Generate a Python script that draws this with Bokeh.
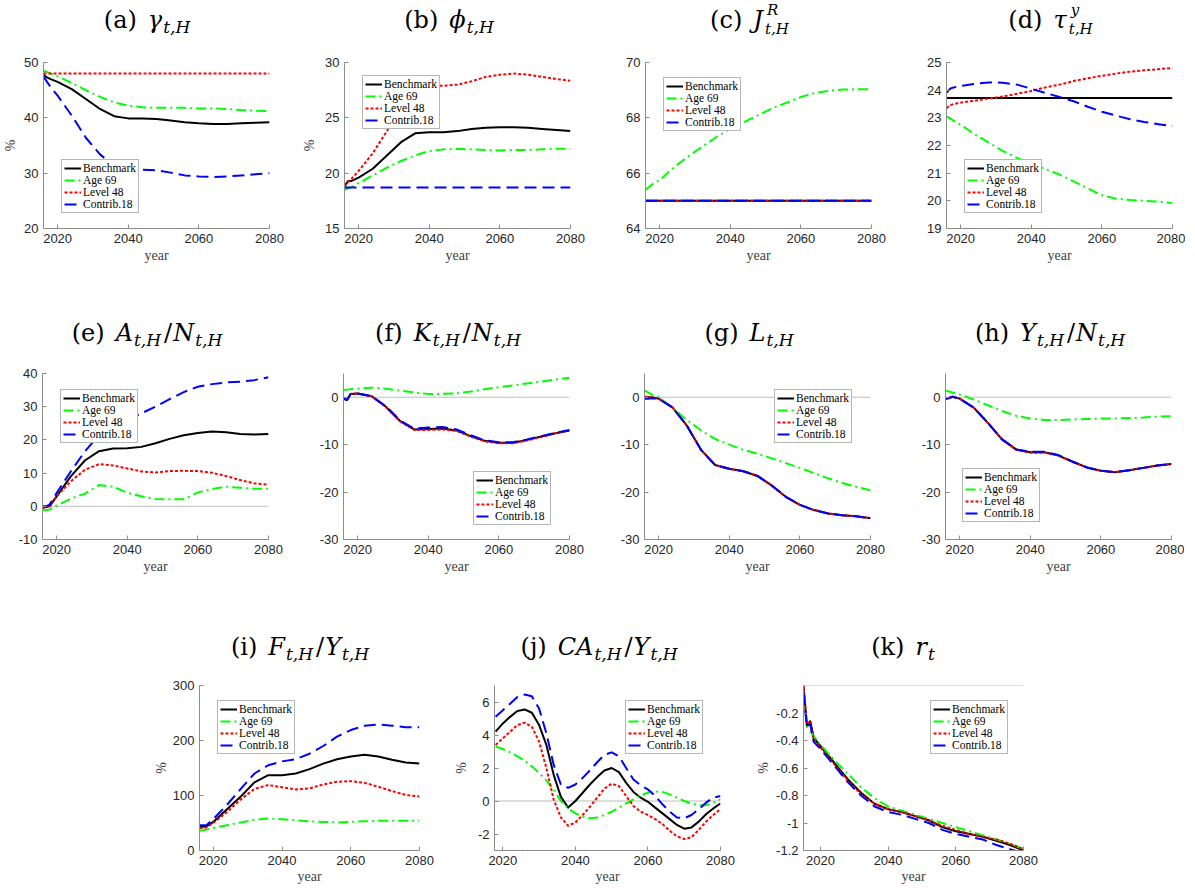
from bokeh.plotting import figure
from bokeh.layouts import column, row
from bokeh.models import Legend, LegendItem, Span, Spacer, FixedTicker, Range1d, Div
from bokeh.embed import file_html
from bokeh.resources import INLINE

SERIES_NAMES = ["Benchmark", "Age 69", "Level 48", "Contrib.18"]
COLORS = ["#000000", "#00ff00", "#ff0000", "#0000ff"]
DASHES = ["solid", "10 4 2 4", "3 2", "12 6"]

YEARS = [2016, 2017, 2018, 2020, 2024, 2028, 2032, 2036, 2040, 2044, 2048, 2052, 2056, 2060, 2064, 2068, 2072, 2076, 2080]

GAMMA_BENCH = [47.8, 47.3, 47.0, 46.5, 45.2, 43.4, 41.6, 40.3, 39.9, 39.9, 39.8, 39.5, 39.2, 39.0, 38.9, 38.9, 39.0, 39.1, 39.2]
GAMMA_AGE69 = [48.5, 48.3, 48.0, 47.5, 46.3, 45.0, 43.8, 42.8, 42.2, 41.9, 41.8, 41.8, 41.8, 41.7, 41.7, 41.6, 41.4, 41.3, 41.2]
GAMMA_LEVEL48 = [48.0, 48.0, 48.0, 48.0, 48.0, 48.0, 48.0, 48.0, 48.0, 48.0, 48.0, 48.0, 48.0, 48.0, 48.0, 48.0, 48.0, 48.0, 48.0]
GAMMA_CONTRIB18 = [47.5, 46.5, 45.6, 44.0, 40.4, 36.4, 33.4, 31.3, 30.7, 30.6, 30.5, 30.1, 29.6, 29.4, 29.3, 29.4, 29.6, 29.8, 30.0]

PHI_BENCH = [18.8, 19.3, 19.3, 19.6, 20.4, 21.6, 22.8, 23.6, 23.7, 23.7, 23.8, 24.0, 24.1, 24.15, 24.15, 24.1, 24.0, 23.9, 23.8]
PHI_AGE69 = [18.5, 18.6, 18.75, 19.1, 19.8, 20.5, 21.1, 21.6, 22.0, 22.15, 22.2, 22.15, 22.1, 22.05, 22.1, 22.1, 22.15, 22.2, 22.2]
PHI_LEVEL48 = [18.8, 19.2, 19.5, 20.2, 21.8, 23.8, 26.0, 27.5, 27.9, 27.9, 28.0, 28.3, 28.7, 28.9, 29.0, 28.9, 28.7, 28.5, 28.35]
PHI_CONTRIB18 = [18.7, 18.7, 18.7, 18.7, 18.7, 18.7, 18.7, 18.7, 18.7, 18.7, 18.7, 18.7, 18.7, 18.7, 18.7, 18.7, 18.7, 18.7, 18.7]

JR_BENCH = [65, 65, 65, 65, 65, 65, 65, 65, 65, 65, 65, 65, 65, 65, 65, 65, 65, 65, 65]
JR_AGE69 = [65.4, 65.5, 65.6, 65.75, 66.2, 66.6, 66.95, 67.3, 67.6, 67.85, 68.1, 68.35, 68.55, 68.75, 68.9, 68.98, 69.02, 69.03, 69.03]
JR_LEVEL48 = [65, 65, 65, 65, 65, 65, 65, 65, 65, 65, 65, 65, 65, 65, 65, 65, 65, 65, 65]
JR_CONTRIB18 = [65, 65, 65, 65, 65, 65, 65, 65, 65, 65, 65, 65, 65, 65, 65, 65, 65, 65, 65]

TAU_BENCH = [23.72, 23.72, 23.72, 23.72, 23.72, 23.72, 23.72, 23.72, 23.72, 23.72, 23.72, 23.72, 23.72, 23.72, 23.72, 23.72, 23.72, 23.72, 23.72]
TAU_AGE69 = [23.05, 22.98, 22.9, 22.75, 22.4, 22.1, 21.8, 21.55, 21.35, 21.15, 20.95, 20.7, 20.45, 20.2, 20.08, 20.03, 20.0, 19.97, 19.92]
TAU_LEVEL48 = [23.35, 23.45, 23.5, 23.55, 23.62, 23.7, 23.77, 23.87, 23.97, 24.1, 24.2, 24.33, 24.43, 24.52, 24.6, 24.67, 24.72, 24.76, 24.8]
TAU_CONTRIB18 = [23.9, 24.05, 24.1, 24.15, 24.23, 24.28, 24.27, 24.2, 24.05, 23.9, 23.75, 23.6, 23.4, 23.22, 23.08, 22.95, 22.85, 22.77, 22.7]

AN_BENCH = [-0.3, -0.2, 0.0, 3.0, 9.0, 13.8, 16.6, 17.4, 17.5, 17.9, 19.0, 20.3, 21.4, 22.1, 22.5, 22.3, 21.8, 21.6, 21.8]
AN_AGE69 = [-1.2, -1.2, -1.0, 0.2, 2.3, 3.8, 6.4, 5.9, 4.1, 3.0, 2.2, 2.1, 2.1, 4.2, 5.2, 5.9, 5.6, 5.3, 5.3]
AN_LEVEL48 = [-0.5, -0.3, 0.2, 3.0, 7.5, 11.0, 12.7, 12.3, 11.4, 10.5, 10.2, 10.6, 10.7, 10.6, 10.1, 9.1, 7.9, 6.9, 6.5]
AN_CONTRIB18 = [0.0, 0.0, 0.5, 4.0, 10.5, 16.5, 21.5, 24.5, 26.0, 28.0, 30.0, 32.3, 34.4, 36.0, 36.8, 37.3, 37.5, 38.0, 38.9]

KN_BENCH = [-0.3, -0.6, 0.7, 0.8, 0.2, -2.0, -5.0, -6.8, -6.7, -6.6, -7.0, -8.2, -9.2, -9.6, -9.6, -9.0, -8.3, -7.6, -7.0]
KN_AGE69 = [1.5, 1.6, 1.7, 1.8, 2.0, 1.8, 1.4, 1.0, 0.7, 0.7, 0.8, 1.2, 1.7, 2.1, 2.5, 2.9, 3.3, 3.7, 4.1]
KN_LEVEL48 = [-0.3, -0.6, 0.7, 0.8, 0.2, -2.1, -5.1, -6.9, -6.9, -6.8, -7.1, -8.3, -9.3, -9.7, -9.7, -9.1, -8.4, -7.6, -7.0]
KN_CONTRIB18 = [-0.3, -0.6, 0.7, 0.8, 0.2, -1.9, -4.9, -6.6, -6.4, -6.3, -6.8, -8.0, -9.1, -9.5, -9.5, -8.9, -8.2, -7.5, -6.9]

L_BENCH = [0.0, 0.0, 0.0, -0.3, -2.2, -6.0, -11.1, -14.3, -15.1, -15.6, -16.6, -18.6, -21.0, -22.7, -23.8, -24.5, -24.9, -25.1, -25.5]
L_AGE69 = [1.4, 1.0, 0.6, 0.0, -2.3, -4.8, -7.0, -8.8, -10.0, -11.1, -11.9, -12.9, -13.9, -14.9, -16.0, -17.1, -18.1, -18.9, -19.6]
L_LEVEL48 = [0.1, 0.1, 0.0, -0.3, -2.2, -6.0, -11.1, -14.3, -15.1, -15.6, -16.6, -18.6, -21.0, -22.7, -23.8, -24.5, -24.9, -25.1, -25.5]
L_CONTRIB18 = [-0.3, -0.3, -0.2, -0.3, -2.2, -6.0, -11.1, -14.3, -15.1, -15.6, -16.6, -18.6, -21.0, -22.7, -23.8, -24.5, -24.9, -25.1, -25.6]

YN_BENCH = [-0.2, -0.1, 0.1, -0.3, -2.2, -5.4, -8.9, -11.0, -11.6, -11.6, -12.3, -13.6, -14.8, -15.5, -15.8, -15.4, -14.9, -14.4, -14.1]
YN_AGE69 = [1.4, 1.2, 1.0, 0.6, -0.5, -1.7, -2.9, -3.9, -4.5, -4.8, -4.8, -4.7, -4.6, -4.5, -4.5, -4.4, -4.3, -4.1, -4.0]
YN_LEVEL48 = [-0.2, -0.1, 0.1, -0.3, -2.2, -5.4, -8.9, -11.1, -11.7, -11.7, -12.3, -13.6, -14.8, -15.5, -15.8, -15.4, -14.9, -14.4, -14.1]
YN_CONTRIB18 = [-0.4, -0.2, 0.1, -0.3, -2.2, -5.4, -8.9, -11.0, -11.5, -11.5, -12.2, -13.6, -14.8, -15.5, -15.8, -15.4, -14.9, -14.4, -14.1]

FY_BENCH = [43, 43, 44, 52, 75, 98, 124, 137, 137, 140, 148, 158, 166, 171, 174, 171, 165, 160, 158]
FY_AGE69 = [36, 37, 38, 41, 46, 51, 56, 58, 57, 55, 53, 52, 51, 52, 53, 54, 54, 54, 54]
FY_LEVEL48 = [41, 41, 42, 50, 70, 93, 112, 119, 115, 111, 113, 120, 125, 126, 123, 116, 108, 101, 98]
FY_CONTRIB18 = [46, 46, 46, 57, 83, 112, 140, 155, 162, 166, 176, 190, 207, 219, 227, 229, 227, 224, 224]

YEARS_J = [2018, 2020, 2022, 2024, 2026, 2028, 2030, 2032, 2034, 2036, 2038, 2040, 2042, 2044, 2046, 2048,
           2050, 2052, 2054, 2056, 2058, 2060, 2062, 2064, 2066, 2068, 2070, 2072, 2074, 2076, 2078, 2080]
CA_BENCH = [4.2, 4.7, 5.1, 5.45, 5.55, 5.35, 4.6, 3.4, 1.6, 0.25, -0.4, 0.0, 0.5, 1.0, 1.45, 1.85,
            2.0, 1.75, 1.1, 0.55, 0.2, -0.05, -0.4, -0.75, -1.1, -1.45, -1.68, -1.6, -1.25, -0.8, -0.45, -0.15]
CA_AGE69 = [3.3, 3.15, 2.95, 2.7, 2.45, 2.1, 1.7, 1.25, 0.7, 0.0, -0.45, -0.75, -0.95, -1.05, -1.0, -0.85,
            -0.65, -0.4, -0.15, 0.1, 0.35, 0.5, 0.58, 0.55, 0.4, 0.2, 0.0, -0.15, -0.25, -0.25, -0.1, 0.1]
CA_LEVEL48 = [3.4, 3.8, 4.2, 4.6, 4.75, 4.5, 3.6, 2.0, 0.1, -1.0, -1.5, -1.3, -0.85, -0.35, 0.2, 0.75,
              1.05, 0.9, 0.3, -0.3, -0.65, -0.85, -1.1, -1.4, -1.8, -2.15, -2.3, -2.2, -1.75, -1.25, -0.85, -0.5]
CA_CONTRIB18 = [5.1, 5.5, 5.9, 6.3, 6.45, 6.35, 5.6, 4.1, 2.2, 1.0, 0.8, 1.0, 1.4, 1.85, 2.35, 2.8,
                2.95, 2.7, 2.0, 1.3, 0.95, 0.7, 0.3, -0.2, -0.65, -1.0, -1.05, -0.85, -0.5, -0.1, 0.2, 0.3]

YEARS_K = [2015, 2016, 2017, 2018, 2020, 2024, 2028, 2032, 2036, 2040, 2044, 2048, 2052, 2056, 2060, 2064, 2068, 2072, 2076, 2080]
R_BENCH = [0.0, -0.29, -0.26, -0.38, -0.44, -0.56, -0.68, -0.78, -0.86, -0.9, -0.92, -0.95, -0.98, -1.03, -1.06, -1.08, -1.1, -1.13, -1.16, -1.2]
R_AGE69 = [-0.05, -0.3, -0.33, -0.37, -0.43, -0.54, -0.64, -0.74, -0.82, -0.88, -0.91, -0.94, -0.97, -1.0, -1.03, -1.06, -1.09, -1.12, -1.15, -1.19]
R_LEVEL48 = [0.0, -0.28, -0.27, -0.39, -0.45, -0.57, -0.69, -0.79, -0.86, -0.9, -0.92, -0.95, -0.98, -1.02, -1.05, -1.08, -1.1, -1.12, -1.15, -1.19]
R_CONTRIB18 = [-0.05, -0.3, -0.28, -0.41, -0.46, -0.58, -0.7, -0.8, -0.88, -0.92, -0.94, -0.97, -1.0, -1.05, -1.08, -1.1, -1.12, -1.16, -1.19, -1.22]

X_TICKS = [2020, 2040, 2060, 2080]

SERIF = "Liberation Serif"
TSERIF = "'DejaVu Serif'"


def title_html(pieces, width, center, pad_top):
    out = []
    for i, (kind, txt) in enumerate(pieces):
        if kind == "rm":
            mr = "margin-right:11px;" if i == 0 else "margin:0 1px;"
            out.append(f'<span style="{mr}">{txt}</span>')
        elif kind == "it":
            out.append(f'<span style="font-style:italic">{txt}</span>')
        elif kind == "sub":
            out.append('<span style="font-style:italic;font-size:17px;position:relative;top:5px;'
                       f'margin-left:1px;margin-right:2px">{txt}</span>')
        elif kind == "supsub":
            sup, sub = txt
            out.append('<span style="display:inline-block;position:relative;width:27px;height:1px;margin-left:2px">'
                       '<span style="position:absolute;left:2px;bottom:10px;font-size:15px;font-style:italic;'
                       f'line-height:1">{sup}</span>'
                       '<span style="position:absolute;left:0px;top:-5px;font-size:15px;font-style:italic;'
                       f'line-height:1;white-space:nowrap">{sub}</span></span>')
    pl = max(0, 2 * center - width)
    pr = max(0, width - 2 * center)
    style = (f"width:{width}px;box-sizing:border-box;padding-left:{pl}px;padding-right:{pr}px;"
             f"padding-top:{pad_top}px;text-align:center;font-family:{TSERIF};font-size:24px;"
             "line-height:1;color:#000000;white-space:nowrap")
    return f'<div style="{style}">' + "".join(out) + "</div>"


def build(spec):
    fw, fh, bl, br, bt, bb = spec["geom"]
    p = figure(title=None, frame_width=fw, frame_height=fh,
               x_range=Range1d(spec["xstart"], 2080), y_range=Range1d(*spec["yr"]),
               output_backend="svg", toolbar_location=None,
               min_border_left=bl, min_border_right=br, min_border_top=bt, min_border_bottom=bb)
    p.outline_line_color = None
    p.grid.visible = False
    p.background_fill_color = "white"
    p.border_fill_color = "white"
    p.xaxis.ticker = FixedTicker(ticks=X_TICKS)
    p.yaxis.ticker = FixedTicker(ticks=spec["yticks"])
    p.yaxis.major_label_overrides = {t: ("%g" % t) for t in spec["yticks"]}
    p.xaxis.major_label_overrides = {t: str(t) for t in X_TICKS}
    for ax in p.xaxis + p.yaxis:
        ax.major_tick_in = 4
        ax.major_tick_out = 0
        ax.minor_tick_line_color = None
        ax.axis_line_color = "#8c8c8c"
        ax.major_tick_line_color = "#8c8c8c"
        ax.major_label_text_font = "Liberation Sans"
        ax.major_label_text_font_size = "13px"
        ax.major_label_text_color = "#262626"
        ax.major_label_standoff = 5
        ax.axis_label_text_font = SERIF
        ax.axis_label_text_font_size = "14px"
        ax.axis_label_text_font_style = "normal"
        ax.axis_label_text_color = "#404040"
    p.xaxis.axis_label = "year"
    p.xaxis.axis_label_standoff = spec["ystd"]
    if spec.get("pct") is not None:
        p.yaxis.axis_label = "%"
        p.yaxis.axis_label_standoff = spec["pct"]

    if spec.get("zero"):
        p.add_layout(Span(location=0, dimension="width", line_color="#bdbdbd", line_width=1, level="underlay"))

    rends = []
    for ys, c, d in zip(spec["series"], COLORS, DASHES):
        rends.append(p.line(spec["x"], ys, line_color=c, line_width=2, line_dash=d, line_join="round"))

    items = [LegendItem(label=n, renderers=[r]) for n, r in zip(SERIES_NAMES, rends)]
    leg = Legend(items=items, location=spec["legend"], margin=0, padding=2, spacing=0,
                 glyph_width=17, glyph_height=12, label_height=12, label_standoff=2,
                 label_text_font=SERIF, label_text_font_size="11.5px", label_text_color="#000000",
                 border_line_color="#6e6e6e", border_line_width=1,
                 background_fill_color="white", background_fill_alpha=1.0)
    p.add_layout(leg)

    width = bl + fw + br
    center = bl + fw / 2.0 - 7
    div = Div(text=title_html(spec["title"], width, center, spec["tpad"]),
              width=width, height=spec["dh"], margin=0)
    return column(div, p, spacing=0)


G1 = (12, 80)
G2 = (12, 86)
G3 = (12, 35)

specs = [
    dict(key="a", x=YEARS, series=[GAMMA_BENCH, GAMMA_AGE69, GAMMA_LEVEL48, GAMMA_CONTRIB18],
         xstart=2016, yr=(20, 50), yticks=[20, 30, 40, 50], geom=(226, 166, 42, 27) + G1,
         legend=(18, 15), title=[("rm", "(a)"), ("it", "γ"), ("sub", "t,H")], dh=50, tpad=8,
         ystd=2, pct=3),
    dict(key="b", x=YEARS, series=[PHI_BENCH, PHI_AGE69, PHI_LEVEL48, PHI_CONTRIB18],
         xstart=2016, yr=(15, 30), yticks=[15, 20, 25, 30], geom=(226, 166, 48, 27) + G1,
         legend=(18, 99), title=[("rm", "(b)"), ("it", "ϕ"), ("sub", "t,H")], dh=50, tpad=8,
         ystd=2, pct=5),
    dict(key="c", x=YEARS, series=[JR_BENCH, JR_AGE69, JR_LEVEL48, JR_CONTRIB18],
         xstart=2016, yr=(64, 70), yticks=[64, 66, 68, 70], geom=(226, 166, 48, 27) + G1,
         legend=(18, 97), title=[("rm", "(c)"), ("it", "J"), ("supsub", ("R", "t,H"))], dh=50, tpad=8,
         ystd=2, pct=None),
    dict(key="d", x=YEARS, series=[TAU_BENCH, TAU_AGE69, TAU_LEVEL48, TAU_CONTRIB18],
         xstart=2016, yr=(19, 25), yticks=[19, 20, 21, 22, 23, 24, 25], geom=(226, 166, 48, 13) + G1,
         legend=(18, 15), title=[("rm", "(d)"), ("it", "τ"), ("supsub", ("y", "t,H"))], dh=50, tpad=8,
         ystd=2, pct=None),
    dict(key="e", x=YEARS, series=[AN_BENCH, AN_AGE69, AN_LEVEL48, AN_CONTRIB18], zero=True,
         xstart=2016, yr=(-10, 40), yticks=[-10, 0, 10, 20, 30, 40], geom=(226, 166, 42, 27) + G2,
         legend=(18, 96), title=[("rm", "(e)"), ("it", "A"), ("sub", "t,H"), ("rm", "/"), ("it", "N"), ("sub", "t,H")],
         dh=53, tpad=13, ystd=2, pct=None),
    dict(key="f", x=YEARS, series=[KN_BENCH, KN_AGE69, KN_LEVEL48, KN_CONTRIB18], zero=True,
         xstart=2016, yr=(-30, 5), yticks=[-30, -20, -10, 0], geom=(226, 166, 48, 27) + G2,
         legend=(130, 14), title=[("rm", "(f)"), ("it", "K"), ("sub", "t,H"), ("rm", "/"), ("it", "N"), ("sub", "t,H")],
         dh=53, tpad=13, ystd=2, pct=None),
    dict(key="g", x=YEARS, series=[L_BENCH, L_AGE69, L_LEVEL48, L_CONTRIB18], zero=True,
         xstart=2016, yr=(-30, 5), yticks=[-30, -20, -10, 0], geom=(226, 166, 48, 27) + G2,
         legend=(130, 96), title=[("rm", "(g)"), ("it", "L"), ("sub", "t,H")],
         dh=53, tpad=13, ystd=2, pct=None),
    dict(key="h", x=YEARS, series=[YN_BENCH, YN_AGE69, YN_LEVEL48, YN_CONTRIB18], zero=True,
         xstart=2016, yr=(-30, 5), yticks=[-30, -20, -10, 0], geom=(226, 166, 48, 13) + G2,
         legend=(17, 17), title=[("rm", "(h)"), ("it", "Y"), ("sub", "t,H"), ("rm", "/"), ("it", "N"), ("sub", "t,H")],
         dh=53, tpad=13, ystd=2, pct=None),
    dict(key="i", x=YEARS, series=[FY_BENCH, FY_AGE69, FY_LEVEL48, FY_CONTRIB18],
         xstart=2016, yr=(0, 300), yticks=[0, 100, 200, 300], geom=(220, 165, 48, 27) + G3,
         legend=(18, 96), title=[("rm", "(i)"), ("it", "F"), ("sub", "t,H"), ("rm", "/"), ("it", "Y"), ("sub", "t,H")],
         dh=48, tpad=10, ystd=1, pct=1),
    dict(key="j", x=YEARS_J, series=[CA_BENCH, CA_AGE69, CA_LEVEL48, CA_CONTRIB18], zero=True,
         xstart=2017.7, yr=(-3, 7), yticks=[-2, 0, 2, 4, 6], geom=(226, 165, 48, 33) + G3,
         legend=(131, 96), title=[("rm", "(j)"), ("it", "CA"), ("sub", "t,H"), ("rm", "/"), ("it", "Y"), ("sub", "t,H")],
         dh=48, tpad=10, ystd=1, pct=6),
    dict(key="k", x=YEARS_K, series=[R_BENCH, R_AGE69, R_LEVEL48, R_CONTRIB18], zero=True,
         xstart=2015, yr=(-1.2, 0), yticks=[-1.2, -1.0, -0.8, -0.6, -0.4, -0.2], geom=(220, 165, 48, 18) + G3,
         legend=(127, 96), title=[("rm", "(k)"), ("it", "r"), ("sub", "t")],
         dh=48, tpad=10, ystd=1, pct=2),
]

cells = {s["key"]: build(s) for s in specs}

layout = column(
    row(cells["a"], cells["b"], cells["c"], cells["d"], spacing=0),
    row(cells["e"], cells["f"], cells["g"], cells["h"], spacing=0),
    row(Spacer(width=150, height=10), cells["i"], cells["j"], cells["k"], spacing=0),
    spacing=0,
)

open("out.html", "w").write(file_html(layout, INLINE))
